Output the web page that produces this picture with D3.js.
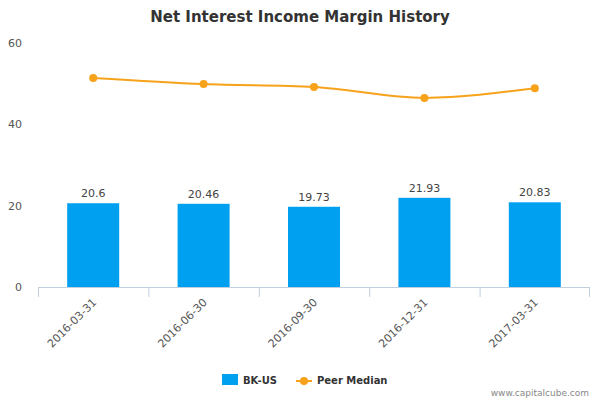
<!DOCTYPE html><html><head><meta charset="utf-8"><script src="https://cdn.jsdelivr.net/npm/d3@7"></script>
<style>body{margin:0;background:#fff}text{font-family:"DejaVu Sans",sans-serif}</style></head><body><svg width="600" height="400"></svg>
<script>
const categories=["2016-03-31","2016-06-30","2016-09-30","2016-12-31","2017-03-31"];
const bkValues=[20.6,20.46,19.73,21.93,20.83];
const peerValues=[51.4,49.9,49.2,46.5,48.9];
const yTicks=[0,20,40,60];
const svg=d3.select("svg");
const L=38,R=590,T=43,B=287;
const x=d3.scaleBand().domain(categories).range([L,R]);
const y=d3.scaleLinear().domain([0,60]).range([B,T]);
svg.append("text").attr("x",300).attr("y",22).attr("text-anchor","middle").attr("font-size",15).attr("font-weight","bold").attr("fill","#333").text("Net Interest Income Margin History");
yTicks.forEach(t=>svg.append("text").attr("x",22).attr("y",y(t)+4).attr("text-anchor","end").attr("font-size",11).attr("fill","#555").text(t));
svg.append("line").attr("x1",L).attr("x2",R).attr("y1",B+0.5).attr("y2",B+0.5).attr("stroke","#c0d0e0");
categories.forEach((c,i)=>{
 const xe=i===0?L:x(c);
 svg.append("line").attr("x1",xe+0.5).attr("x2",xe+0.5).attr("y1",B).attr("y2",B+10).attr("stroke","#c0d0e0");
});
svg.append("line").attr("x1",R-0.5).attr("x2",R-0.5).attr("y1",B).attr("y2",B+10).attr("stroke","#c0d0e0");
const bw=52;
svg.selectAll("rect.b").data(bkValues).enter().append("rect").attr("x",(d,i)=>x(categories[i])+x.bandwidth()/2-bw/2).attr("y",d=>y(d)).attr("width",bw).attr("height",d=>B-y(d)).attr("fill","#00a0f0");
svg.selectAll("text.v").data(bkValues).enter().append("text").attr("x",(d,i)=>x(categories[i])+x.bandwidth()/2).attr("y",d=>y(d)-6).attr("text-anchor","middle").attr("font-size",11).attr("fill","#444").text(d=>d);
const cx=(d,i)=>x(categories[i])+x.bandwidth()/2;
svg.append("path").datum(peerValues).attr("d",d3.line().x(cx).y(d=>y(d)).curve(d3.curveMonotoneX)).attr("fill","none").attr("stroke","#f7a21b").attr("stroke-width",2);
svg.selectAll("circle").data(peerValues).enter().append("circle").attr("cx",cx).attr("cy",d=>y(d)).attr("r",4).attr("fill","#f7a21b");
categories.forEach(c=>{
 const px=x(c)+x.bandwidth()/2+4;
 svg.append("text").attr("transform",`translate(${px},${B+16}) rotate(-45)`).attr("text-anchor","end").attr("font-size",11).attr("fill","#555").text(c);
});
svg.append("rect").attr("x",222).attr("y",374).attr("width",16).attr("height",11).attr("fill","#00a0f0");
svg.append("text").attr("x",243).attr("y",384).attr("font-size",10).attr("font-weight","bold").attr("fill","#333").text("BK-US");
svg.append("line").attr("x1",296).attr("x2",312).attr("y1",381).attr("y2",381).attr("stroke","#f7a21b").attr("stroke-width",2);
svg.append("circle").attr("cx",304).attr("cy",381).attr("r",4).attr("fill","#f7a21b");
svg.append("text").attr("x",317).attr("y",384).attr("font-size",10).attr("font-weight","bold").attr("fill","#333").text("Peer Median");
svg.append("text").attr("x",589).attr("y",396).attr("text-anchor","end").attr("font-size",9).attr("fill","#888").text("www.capitalcube.com");
</script></body></html>
